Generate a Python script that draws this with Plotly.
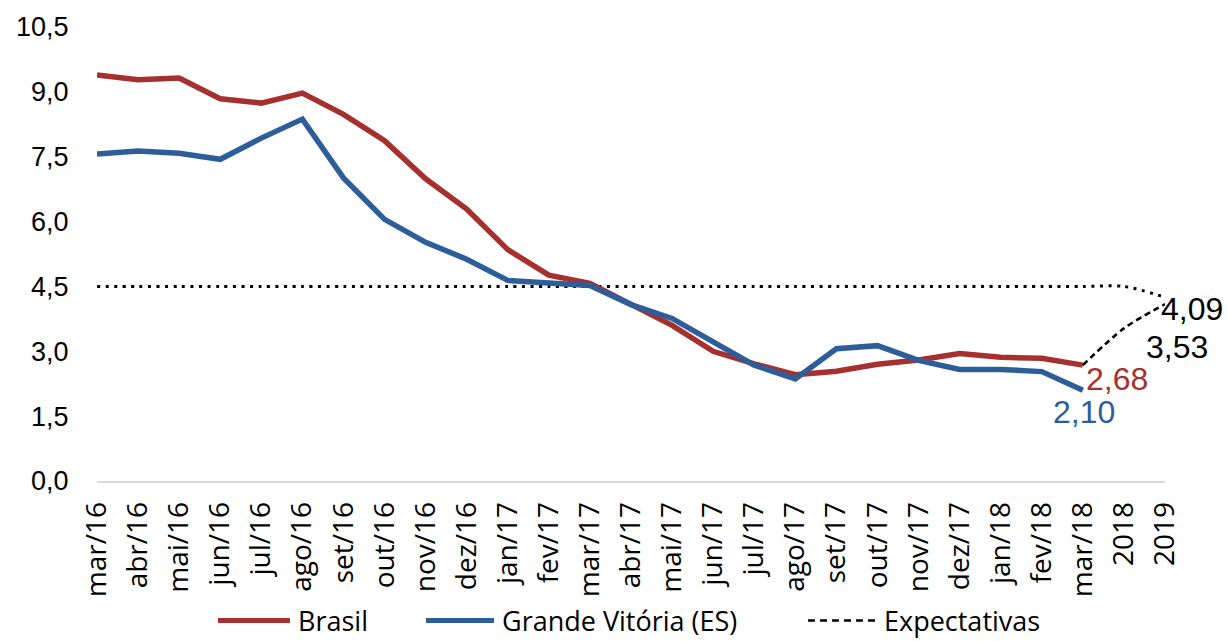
import plotly.graph_objects as go

categories = ["mar/16", "abr/16", "mai/16", "jun/16", "jul/16", "ago/16", "set/16", "out/16",
              "nov/16", "dez/16", "jan/17", "fev/17", "mar/17", "abr/17", "mai/17", "jun/17",
              "jul/17", "ago/17", "set/17", "out/17", "nov/17", "dez/17", "jan/18", "fev/18",
              "mar/18", "2018", "2019"]

brasil = [9.39, 9.28, 9.32, 8.84, 8.74, 8.97, 8.48, 7.87, 6.99, 6.29, 5.35, 4.76, 4.57,
          4.08, 3.60, 3.00, 2.71, 2.46, 2.54, 2.70, 2.80, 2.95, 2.86, 2.84, 2.68]

grande_vitoria = [7.56, 7.63, 7.58, 7.44, 7.93, 8.37, 7.01, 6.05, 5.52, 5.13, 4.64, 4.57, 4.52,
                  4.08, 3.76, 3.22, 2.68, 2.36, 3.06, 3.13, 2.79, 2.58, 2.58, 2.53, 2.10]

expect_categories = ["mar/18", "2018", "2019"]
expectativas = [2.68, 3.53, 4.09]

meta = [4.5] * 26 + [4.25]

y_ticks = [0.0, 1.5, 3.0, 4.5, 6.0, 7.5, 9.0, 10.5]

RED = "#A5302E"
BLUE = "#2E5E99"
TICK_FONT = "Open Sans"
NUM_FONT = "Liberation Sans, Arial"


def fmt(v):
    return f"{v:.2f}".replace(".", ",")


fig = go.Figure()

fig.add_trace(go.Scatter(x=categories, y=meta, mode="lines", showlegend=False,
                         line=dict(color="black", width=3, dash="3px,5.5px",
                                   shape="spline", smoothing=0.8),
                         hoverinfo="skip"))
fig.add_trace(go.Scatter(x=categories[:len(brasil)], y=brasil, mode="lines", name="Brasil",
                         showlegend=False, line=dict(color=RED, width=5.5)))
fig.add_trace(go.Scatter(x=categories[:len(grande_vitoria)], y=grande_vitoria, mode="lines",
                         name="Grande Vitória (ES)", showlegend=False,
                         line=dict(color=BLUE, width=5.5)))
fig.add_trace(go.Scatter(x=expect_categories, y=expectativas, mode="lines", name="Expectativas",
                         showlegend=False,
                         line=dict(color="black", width=2.5, dash="6px,4px",
                                   shape="spline", smoothing=0.8)))

i_br = len(brasil) - 1
i_gv = len(grande_vitoria) - 1
i_e1 = categories.index(expect_categories[1])
i_e2 = categories.index(expect_categories[2])

annotations = [
    dict(x=i_br, y=brasil[-1], text=fmt(brasil[-1]),
         font=dict(color=RED, size=32, family=NUM_FONT), xshift=34, yshift=-14),
    dict(x=i_gv, y=grande_vitoria[-1], text=fmt(grande_vitoria[-1]),
         font=dict(color=BLUE, size=32, family=NUM_FONT), xshift=1, yshift=-22),
    dict(x=i_e1, y=expectativas[1], text=fmt(expectativas[1]),
         font=dict(color="black", size=32, family=NUM_FONT), xshift=53, yshift=-19),
    dict(x=i_e2, y=expectativas[2], text=fmt(expectativas[2]),
         font=dict(color="black", size=32, family=NUM_FONT), xshift=27, yshift=-5),
]
for a in annotations:
    a.update(showarrow=False, xref="x", yref="y")

# Manual legend (long line samples as in the original)
legend_items = [
    ("Brasil", RED, "solid", 0.1133, 0.1807, 0.1863),
    ("Grande Vitória (ES)", BLUE, "solid", 0.3080, 0.3717, 0.3773),
    ("Expectativas", "black", "7px,5px", 0.6657, 0.7303, 0.7350),
]
legend_y = -0.307
shapes = []
for name, color, dash, x0, x1, xt in legend_items:
    shapes.append(dict(type="line", xref="paper", yref="paper", x0=x0, x1=x1,
                       y0=legend_y, y1=legend_y,
                       line=dict(color=color, width=5 if dash == "solid" else 2.5, dash=dash)))
    annotations.append(dict(x=xt, y=legend_y, xref="paper", yref="paper", text=name,
                            showarrow=False, xanchor="left", yanchor="middle",
                            font=dict(family=TICK_FONT, size=27, color="black")))

fig.update_layout(
    width=1228, height=641,
    margin=dict(l=97, r=63, t=25, b=160),
    paper_bgcolor="white", plot_bgcolor="white",
    separators=",.",
    showlegend=False,
    annotations=annotations,
    shapes=shapes,
    xaxis=dict(type="category", categoryorder="array", categoryarray=categories,
               range=[0, len(categories) - 1], tickangle=-90,
               tickfont=dict(family=TICK_FONT, size=28, color="black"),
               showline=True, linecolor="#D9D9D9", linewidth=1.5,
               showgrid=False, zeroline=False,
               ticks="outside", ticklen=8, tickcolor="rgba(0,0,0,0)"),
    yaxis=dict(range=[0, 10.5], tickvals=y_ticks, tickformat=".1f",
               tickfont=dict(family=NUM_FONT, size=27, color="black"),
               showline=False, showgrid=False, zeroline=False,
               ticks="outside", ticklen=22, tickcolor="rgba(0,0,0,0)"),
)

fig.write_html("out.html", config={"displayModeBar": False},
               post_script="document.body.style.margin='0';")
